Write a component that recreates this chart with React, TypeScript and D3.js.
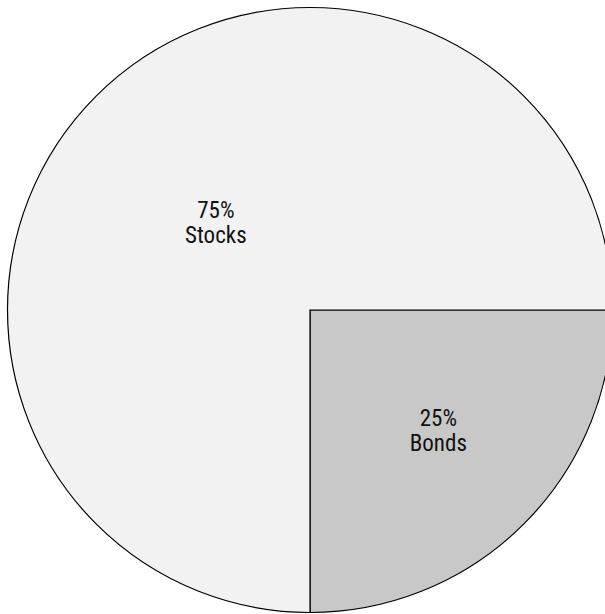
import React from "react";
import * as d3 from "d3";

const categories = ["Bonds", "Stocks"];
const values = [25, 75];
const percentLabels = ["25%", "75%"];
const colors = ["#c8c8c8", "#f2f2f2"];

// label layout: radius as fraction of pie radius, angle as fraction of slice span
const labelRadiusFactors = [0.6, 0.407];
const labelAngleFractions = [0.5, 0.482];

export default function App() {
  const width = 605;
  const height = 614;
  const cx = 310;
  const cy = 310;
  const r = 302.5;

  const data = categories.map((c, i) => ({
    name: c,
    value: values[i],
    pct: percentLabels[i],
    color: colors[i],
    lr: labelRadiusFactors[i],
    lf: labelAngleFractions[i],
  }));
  const pie = d3
    .pie<any>()
    .sort(null)
    .value((d) => d.value)
    .startAngle(Math.PI / 2)
    .endAngle(Math.PI / 2 + 2 * Math.PI);
  const arcs = pie(data);
  const arc = d3.arc<any>().innerRadius(0).outerRadius(r);

  return (
    <svg
      width={width}
      height={height}
      style={{ position: "absolute", left: 0, top: 0, background: "#ffffff" }}
    >
      <g transform={`translate(${cx},${cy})`}>
        {arcs.map((a, i) => (
          <path key={i} d={arc(a) as string} fill={a.data.color} stroke="#000" strokeWidth={1.2} />
        ))}
        {arcs.map((a, i) => {
          const ang = a.startAngle + (a.endAngle - a.startAngle) * a.data.lf;
          const rr = r * a.data.lr;
          const x = Math.sin(ang) * rr;
          const y = -Math.cos(ang) * rr;
          return (
            <text
              key={"t" + i}
              x={x}
              y={y}
              textAnchor="middle"
              fontFamily="'Roboto Condensed', 'Liberation Sans Narrow', 'DejaVu Sans Condensed', Roboto, sans-serif"
              fontSize={23}
              fill="#111"
            >
              <tspan x={x} dy={-12.5}>{a.data.pct}</tspan>
              <tspan x={x} dy={25}>{a.data.name}</tspan>
            </text>
          );
        })}
      </g>
    </svg>
  );
}
